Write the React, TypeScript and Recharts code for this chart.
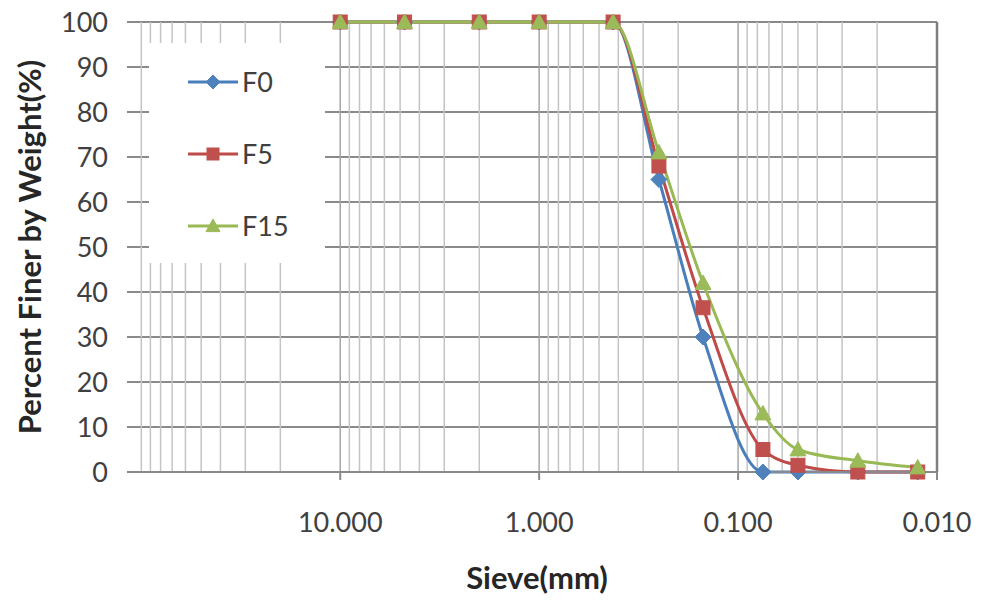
import React from "react"
import { LineChart, Line, XAxis, YAxis, CartesianGrid, Legend, ReferenceLine } from "recharts"

// sieve openings (mm) and percent passing for each mix
const sieveSizes = [10, 4.75, 2, 1, 0.425, 0.25, 0.15, 0.075, 0.05, 0.025, 0.0125]
const f0 = [100, 100, 100, 100, 100, 65, 30, 0, 0, 0, 0]
const f5 = [100, 100, 100, 100, 100, 68, 36.5, 5, 1.5, 0, 0]
const f15 = [100, 100, 100, 100, 100, 71, 42, 13, 5, 2.5, 1]

const xTicks = [10, 1, 0.1, 0.01]
const yTicks = [0, 10, 20, 30, 40, 50, 60, 70, 80, 90, 100]
const minorGrid = [
  100, 90, 80, 70, 60, 50, 40, 30, 20,
  9, 8, 7, 6, 5, 4, 3, 2,
  0.9, 0.8, 0.7, 0.6, 0.5, 0.4, 0.3, 0.2,
  0.09, 0.08, 0.07, 0.06, 0.05, 0.04, 0.03, 0.02,
]

const data = sieveSizes.map((size, i) => ({ size, f0: f0[i], f5: f5[i], f15: f15[i] }))

const series = [
  { key: "f0", name: "F0", color: "#4a7ebb", fill: "#4f81bd", shape: "diamond" },
  { key: "f5", name: "F5", color: "#be4b48", fill: "#c0504d", shape: "square" },
  { key: "f15", name: "F15", color: "#98b954", fill: "#9bbb59", shape: "triangle" },
]

const font = "Lato, 'Open Sans', sans-serif"
const textColor = "#404040"

function Marker({ cx, cy, shape, fill, size = 7 }: any) {
  if (cx == null || cy == null) return null
  if (shape === "diamond") {
    const s = size + 1
    return <polygon points={`${cx},${cy - s} ${cx + s},${cy} ${cx},${cy + s} ${cx - s},${cy}`} fill={fill} stroke={fill} strokeWidth={1} />
  }
  if (shape === "square") {
    return <rect x={cx - size} y={cy - size} width={size * 2} height={size * 2} fill={fill} stroke={fill} strokeWidth={1} />
  }
  const s = size + 1
  return <polygon points={`${cx},${cy - s} ${cx + s},${cy + s * 0.8} ${cx - s},${cy + s * 0.8}`} fill={fill} stroke={fill} strokeWidth={1} />
}

function LegendBox() {
  return (
    <svg width={176} height={220} style={{ background: "#fff", display: "block" }}>
      {series.map((s, i) => {
        const y = 39 + i * 72
        return (
          <g key={s.key}>
            <line x1={39} x2={89} y1={y} y2={y} stroke={s.color} strokeWidth={3} />
            <Marker cx={64} cy={y} shape={s.shape} fill={s.fill} size={6} />
            <text x={93} y={y} dy="0.36em" fontSize={27} fontFamily={font} fill={textColor}>
              {s.name}
            </text>
          </g>
        )
      })}
    </svg>
  )
}

export default function App() {
  return (
    <div style={{ position: "absolute", left: 0, top: 0, background: "#fff" }}>
      <LineChart width={981} height={601} data={data} margin={{ top: 22, right: 44, left: 0, bottom: 0 }}>
        <CartesianGrid vertical={false} stroke="#8a8a8a" strokeWidth={2} />
        {minorGrid.map((v) => (
          <ReferenceLine key={v} x={v} stroke="#c4c4c4" strokeWidth={1.5} />
        ))}
        {xTicks.slice(0, 3).map((v) => (
          <ReferenceLine key={"m" + v} x={v} stroke="#a6a6a6" strokeWidth={1.5} />
        ))}
        <ReferenceLine x={0.01} stroke="#7f7f7f" strokeWidth={2.5} />
        <XAxis
          type="number"
          dataKey="size"
          scale="log"
          domain={[0.01, 118]}
          allowDataOverflow
          reversed
          ticks={xTicks}
          interval={0}
          tickFormatter={(v: number) => v.toFixed(3)}
          height={129}
          tickSize={8}
          tickMargin={33}
          stroke="#8a8a8a"
          strokeWidth={2}
          tick={{ fontSize: 27, fontFamily: font, fill: textColor }}
          label={{
            content: ({ viewBox }: any) => (
              <text
                x={viewBox.x + viewBox.width / 2 + 5}
                y={589}
                textAnchor="middle"
                fontSize={31}
                fontWeight="bold"
                fontFamily={font}
                fill="#262626"
              >
                Sieve(mm)
              </text>
            ),
          }}
        />
        <YAxis
          type="number"
          domain={[0, 100]}
          ticks={yTicks}
          interval={0}
          width={127}
          axisLine={false}
          tickLine={false}
          tickSize={0}
          tickMargin={19}
          tick={{ fontSize: 27, fontFamily: font, fill: textColor }}
          label={{
            content: ({ viewBox }: any) => {
              const cy = viewBox.y + viewBox.height / 2
              return (
                <text
                  x={30}
                  y={cy}
                  dy="0.36em"
                  transform={`rotate(-90, 30, ${cy})`}
                  textAnchor="middle"
                  fontSize={31}
                  fontWeight="bold"
                  fontFamily={font}
                  fill="#262626"
                >
                  Percent Finer by Weight(%)
                </text>
              )
            },
          }}
        />
        <Legend
          layout="vertical"
          align="center"
          verticalAlign="middle"
          content={() => <LegendBox />}
          wrapperStyle={{ left: 149, top: 43, width: 176, height: 220 }}
        />
        {series.map((s) => (
          <Line
            key={s.key}
            type="monotone"
            dataKey={s.key}
            name={s.name}
            stroke={s.color}
            strokeWidth={3}
            isAnimationActive={false}
            dot={(p: any) => <Marker key={p.index} cx={p.cx} cy={p.cy} shape={s.shape} fill={s.fill} />}
            activeDot={false}
          />
        ))}
      </LineChart>
    </div>
  )
}
